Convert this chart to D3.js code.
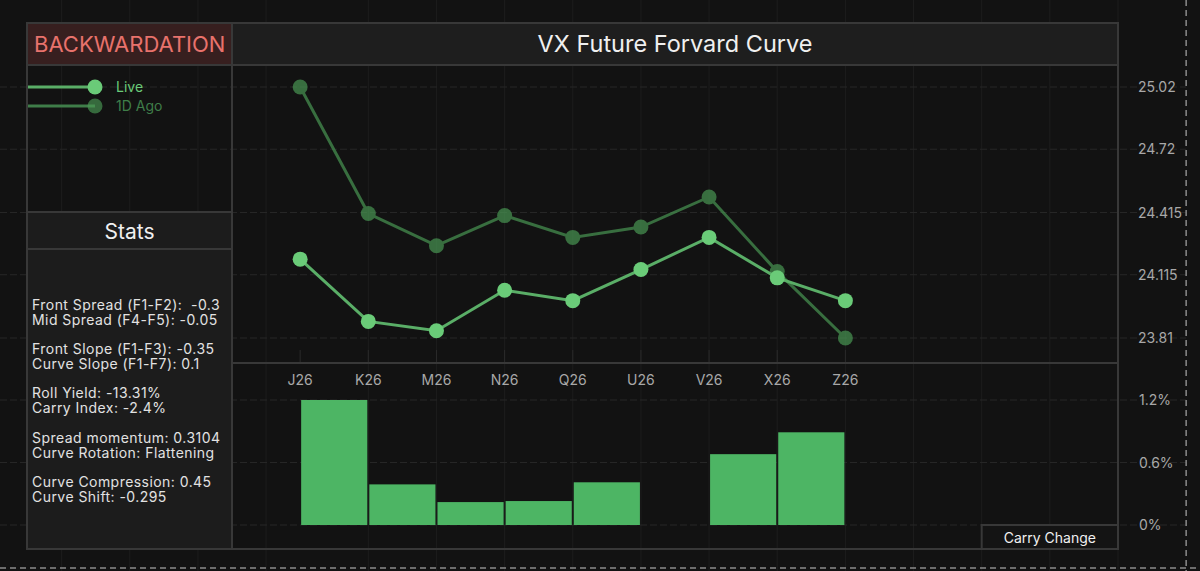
<!DOCTYPE html>
<html>
<head>
<meta charset="utf-8">
<script src="https://cdn.jsdelivr.net/npm/d3@7"></script>
<style>
  html, body { margin: 0; padding: 0; background: #121212; }
  svg { display: block; font-family: Inter, "Noto Sans", sans-serif; }
  .stat { white-space: pre; letter-spacing: 0.45px; }
</style>
</head>
<body>
<svg id="chart" width="1200" height="571"></svg>
<script>
// contract months and values
var categories = ["J26", "K26", "M26", "N26", "Q26", "U26", "V26", "X26", "Z26"];
var liveValues = [24.19, 23.89, 23.845, 24.04, 23.99, 24.14, 24.295, 24.10, 23.99];
var agoValues = [25.02, 24.41, 24.255, 24.40, 24.295, 24.345, 24.49, 24.13, 23.81];
var carryValues = [1.2, 0.39, 0.22, 0.23, 0.41, 0, 0.68, 0.89, 0];
var priceTicks = [23.81, 24.115, 24.415, 24.72, 25.02];
var carryTicks = [0, 0.6, 1.2];
var statsGroups = [
	["Front Spread (F1-F2):  -0.3", "Mid Spread (F4-F5): -0.05"],
	["Front Slope (F1-F3): -0.35", "Curve Slope (F1-F7): 0.1"],
	["Roll Yield: -13.31%", "Carry Index: -2.4%"],
	["Spread momentum: 0.3104", "Curve Rotation: Flattening"],
	["Curve Compression: 0.45", "Curve Shift: -0.295"]
];

var LEFT = 27, SPLIT = 232, RIGHT = 1118, TOP = 23, HEAD = 65, MID = 363, BOTTOM = 549;
var BORDER = "#383838";

var svg = d3.select("#chart");

// index scale, one step per month
var x = d3.scaleLinear().domain([-1, 12]).range([SPLIT, RIGHT]);
var yPrice = d3.scaleLinear()
	.domain(d3.extent(liveValues.concat(agoValues)))
	.range([338, 87]);
var yCarry = d3.scaleLinear().domain([0, 1.2]).range([525, 400]);

// background grid
var grid = svg.append("g").classed("grid", true);
var vLines = [-3.5, -2.5, -1.5, -0.5].concat(d3.range(1, 13));
grid.selectAll("line.v")
	.data(vLines)
	.enter()
	.append("line")
	.attr("x1", function(d) { return x(d); })
	.attr("x2", function(d) { return x(d); })
	.attr("y1", 0)
	.attr("y2", 571)
	.style("stroke", "#1d1d1d")
	.style("stroke-width", 1);

grid.selectAll("line.h")
	.data(priceTicks.map(yPrice).concat(carryTicks.map(yCarry)))
	.enter()
	.append("line")
	.attr("x1", 0)
	.attr("x2", x(13))
	.attr("y1", function(d) { return d; })
	.attr("y2", function(d) { return d; })
	.style("stroke", "#262626")
	.style("stroke-dasharray", "7,3")
	.style("stroke-width", 1);

// dashed outer guides
svg.append("line")
	.attr("x1", x(13)).attr("x2", x(13))
	.attr("y1", 0).attr("y2", 571)
	.style("stroke", "#8a8a8a")
	.style("stroke-dasharray", "6,4")
	.style("stroke-width", 1.5);
svg.append("line")
	.attr("x1", 0).attr("x2", 1200)
	.attr("y1", 568).attr("y2", 568)
	.style("stroke", "#8a8a8a")
	.style("stroke-dasharray", "6,4")
	.style("stroke-width", 1.5);

// header cells
svg.append("rect")
	.attr("x", LEFT).attr("y", TOP)
	.attr("width", SPLIT - LEFT).attr("height", HEAD - TOP)
	.attr("fill", "#371f1f");
svg.append("text")
	.attr("x", LEFT + 7).attr("y", 44)
	.attr("dy", "0.36em")
	.style("font-size", "22px")
	.style("fill", "#e8726c")
	.text("BACKWARDATION");

svg.append("rect")
	.attr("x", SPLIT).attr("y", TOP)
	.attr("width", RIGHT - SPLIT).attr("height", HEAD - TOP)
	.attr("fill", "#1e1e1e");
svg.append("text")
	.attr("x", 675).attr("y", 44)
	.attr("dy", "0.36em")
	.attr("text-anchor", "middle")
	.style("font-size", "23.5px")
	.style("fill", "#f0f0f0")
	.text("VX Future Forvard Curve");

// stats panel
svg.append("rect")
	.attr("x", LEFT).attr("y", 212)
	.attr("width", SPLIT - LEFT).attr("height", BOTTOM - 212)
	.attr("fill", "#1c1c1c");
svg.append("text")
	.attr("x", (LEFT + SPLIT) / 2).attr("y", 231)
	.attr("dy", "0.36em")
	.attr("text-anchor", "middle")
	.style("font-size", "21px")
	.style("fill", "#f0f0f0")
	.text("Stats");

var statRows = svg.append("g")
	.selectAll("g")
	.data(statsGroups)
	.enter()
	.append("g")
	.attr("transform", function(d, i) {
		return "translate(" + (LEFT + 5) + "," + (305 + i * 44.2) + ")";
	});
statRows.selectAll("text")
	.data(function(d) { return d; })
	.enter()
	.append("text")
	.classed("stat", true)
	.attr("y", function(d, i) { return i * 15; })
	.attr("dy", "0.36em")
	.style("font-size", "14px")
	.style("fill", "#e2e2e2")
	.text(function(d) { return d; });

// legend
var legendData = [
	{name: "Live", y: 87, line: "#5aae67", dot: "#6acb78", text: "#6acb78", op: 1},
	{name: "1D Ago", y: 106, line: "#3f7d49", dot: "#4a9a55", text: "#3f7d49", op: 0.65}
];
var legend = svg.append("g")
	.selectAll("g")
	.data(legendData)
	.enter()
	.append("g")
	.attr("transform", function(d) { return "translate(0," + d.y + ")"; });
legend.append("line")
	.attr("x1", LEFT).attr("x2", 95)
	.style("stroke", function(d) { return d.line; })
	.style("stroke-width", 3);
legend.append("circle")
	.attr("cx", 95).attr("r", 7.5)
	.attr("fill", function(d) { return d.dot; })
	.attr("fill-opacity", function(d) { return d.op; });
legend.append("text")
	.attr("x", 116)
	.attr("dy", "0.36em")
	.style("font-size", "14px")
	.style("fill", function(d) { return d.text; })
	.text(function(d) { return d.name; });

// x axis labels and ticks
svg.append("g")
	.selectAll("line")
	.data(categories)
	.enter()
	.append("line")
	.attr("x1", function(d, i) { return x(i); })
	.attr("x2", function(d, i) { return x(i); })
	.attr("y1", 350).attr("y2", MID)
	.style("stroke", "#2a2a2a");
svg.append("g")
	.selectAll("text")
	.data(categories)
	.enter()
	.append("text")
	.attr("x", function(d, i) { return x(i); })
	.attr("y", 380)
	.attr("dy", "0.36em")
	.attr("text-anchor", "middle")
	.style("font-size", "14px")
	.style("fill", "#a8a8a8")
	.text(function(d) { return d; });

// right axis labels
svg.append("g")
	.selectAll("text")
	.data(priceTicks)
	.enter()
	.append("text")
	.attr("x", 1138)
	.attr("y", function(d) { return yPrice(d); })
	.attr("dy", "0.36em")
	.style("font-size", "14px")
	.style("fill", "#a8a8a8")
	.text(function(d) { return d; });
svg.append("g")
	.selectAll("text")
	.data(carryTicks)
	.enter()
	.append("text")
	.attr("x", 1139)
	.attr("y", function(d) { return yCarry(d); })
	.attr("dy", "0.36em")
	.style("font-size", "14px")
	.style("fill", "#a8a8a8")
	.text(function(d) { return d + "%"; });

// carry bars, each starts at its month and runs one step right
svg.append("g")
	.selectAll("rect")
	.data(carryValues)
	.enter()
	.append("rect")
	.attr("x", function(d, i) { return x(i) + 1; })
	.attr("width", function(d, i) { return x(i + 1) - x(i) - 2; })
	.attr("y", function(d) { return yCarry(d); })
	.attr("height", function(d) { return yCarry(0) - yCarry(d); })
	.attr("fill", "#4db564");

// curves
var line = d3.line()
	.x(function(d, i) { return x(i); })
	.y(function(d) { return yPrice(d); });

function drawSeries(values, lineColor, dotColor, opacity) {
	var g = svg.append("g").style("opacity", opacity);
	g.append("path")
		.datum(values)
		.attr("d", line)
		.attr("fill", "none")
		.style("stroke", lineColor)
		.style("stroke-width", 3);
	g.selectAll("circle")
		.data(values)
		.enter()
		.append("circle")
		.attr("cx", function(d, i) { return x(i); })
		.attr("cy", function(d) { return yPrice(d); })
		.attr("r", 7.5)
		.attr("fill", dotColor);
	return g;
}
drawSeries(agoValues, "#4a9a55", "#4a9a55", 0.68);
drawSeries(liveValues, "#5aae67", "#6acb78", 1);

// carry change label box
svg.append("rect")
	.attr("x", x(10)).attr("y", 525)
	.attr("width", RIGHT - x(10)).attr("height", BOTTOM - 525)
	.attr("fill", "#141414")
	.style("stroke", BORDER)
	.style("stroke-width", 2);
svg.append("text")
	.attr("x", (x(10) + RIGHT) / 2).attr("y", 538)
	.attr("dy", "0.36em")
	.attr("text-anchor", "middle")
	.style("font-size", "14px")
	.style("fill", "#f0f0f0")
	.text("Carry Change");

// panel borders
var frame = svg.append("g")
	.style("stroke", BORDER)
	.style("stroke-width", 2)
	.attr("fill", "none");
frame.append("rect")
	.attr("x", LEFT).attr("y", TOP)
	.attr("width", RIGHT - LEFT).attr("height", BOTTOM - TOP);
frame.append("line").attr("x1", SPLIT).attr("x2", SPLIT).attr("y1", TOP).attr("y2", BOTTOM);
frame.append("line").attr("x1", LEFT).attr("x2", RIGHT).attr("y1", HEAD).attr("y2", HEAD);
frame.append("line").attr("x1", LEFT).attr("x2", SPLIT).attr("y1", 212).attr("y2", 212);
frame.append("line").attr("x1", LEFT).attr("x2", SPLIT).attr("y1", 249).attr("y2", 249);
frame.append("line").attr("x1", SPLIT).attr("x2", RIGHT).attr("y1", MID).attr("y2", MID);
</script>
</body>
</html>
